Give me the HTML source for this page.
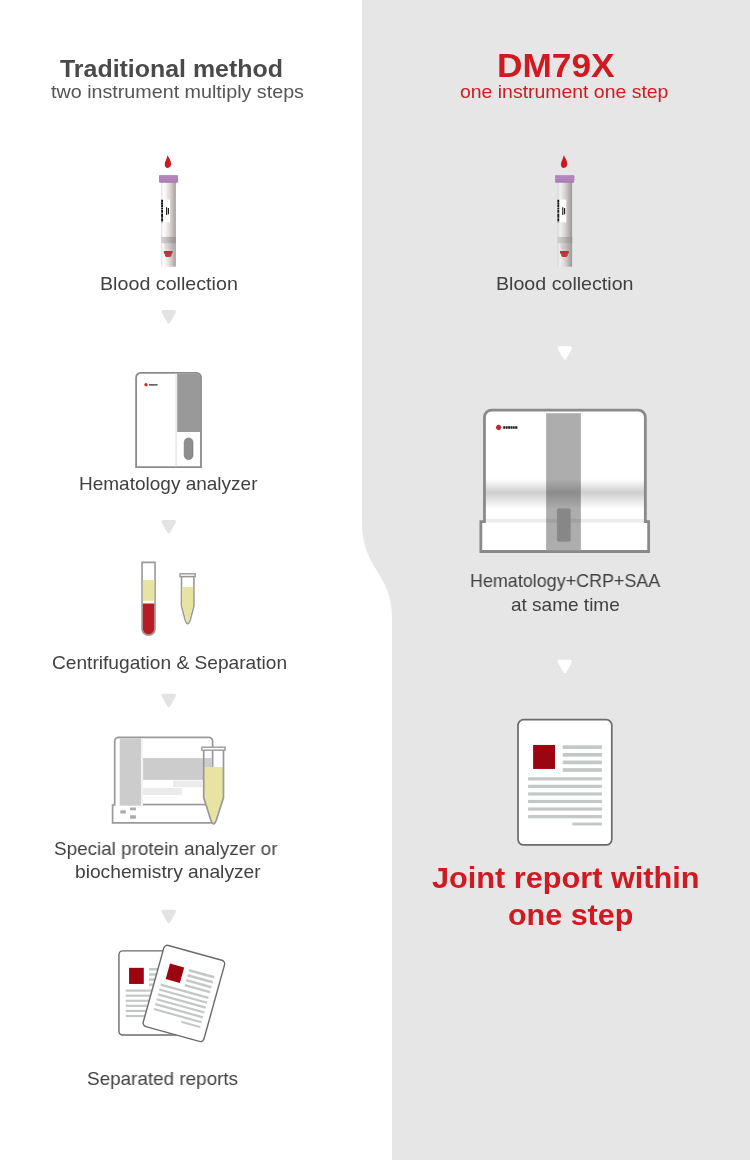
<!DOCTYPE html>
<html>
<head>
<meta charset="utf-8">
<title>Traditional method vs DM79X</title>
<style>
html,body{margin:0;padding:0;}
body{width:750px;height:1160px;position:relative;overflow:hidden;background:#fff;font-family:"Liberation Sans",sans-serif;}
#bg{position:absolute;left:0;top:0;width:750px;height:1160px;}
.t{position:absolute;white-space:nowrap;will-change:transform;color:#414141;font-size:19px;transform-origin:0 0;}
.t span{display:inline-block;}
.red{color:#cf1a21;}
.b{font-weight:bold;}
</style>
</head>
<body>
<svg id="bg" width="750" height="1160" viewBox="0 0 750 1160">
<defs>
<linearGradient id="tubeG" x1="0" x2="1" y1="0" y2="0">
<stop offset="0" stop-color="#e4e2e2"/><stop offset="0.18" stop-color="#ffffff"/><stop offset="0.36" stop-color="#f1efef"/><stop offset="0.6" stop-color="#dad6d5"/><stop offset="0.82" stop-color="#bdb7b6"/><stop offset="0.95" stop-color="#aaa3a3"/><stop offset="1" stop-color="#c9c4c4"/>
</linearGradient>
<linearGradient id="tbandG" x1="0" x2="1" y1="0" y2="0"><stop offset="0" stop-color="#d4d0d0"/><stop offset="0.3" stop-color="#c9c5c5"/><stop offset="0.7" stop-color="#aaa3a3"/><stop offset="1" stop-color="#9b9393"/></linearGradient>
<linearGradient id="bandG" x1="0" x2="0" y1="0" y2="1">
<stop offset="0" stop-color="#000" stop-opacity="0"/><stop offset="0.45" stop-color="#000" stop-opacity="0.19"/><stop offset="1" stop-color="#000" stop-opacity="0"/>
</linearGradient>
<g id="tubeBody">
<path d="M-7.500,0 H7.500 V83.900 a0.800,0.800 0 0 1 -0.800,0.800 H-6.700 a0.800,0.800 0 0 1 -0.800,-0.800Z" fill="url(#tubeG)"/>
</g>
<g id="tubeTop">
<path d="M-1,-26.8 C0.4,-24.4 2.6,-21.2 2.6,-18 C2.6,-15.8 1,-14.1 -0.8,-14.1 C-2.7,-14.1 -3.9,-15.7 -3.8,-17.6 C-3.7,-20.6 -1.6,-23 -1,-26.8Z" fill="#cc1b1f"/>
<rect x="-9.500" y="-7" width="19" height="7.800" rx="1.300" fill="#a977b4"/>
<path d="M-9.500,-5.700 a1.300,1.300 0 0 1 1.300,-1.300 H8.200 a1.300,1.300 0 0 1 1.300,1.300 V-1.500 H-9.500Z" fill="#bc99c7"/>
<rect x="-9.500" y="-6.100" width="19" height="0.600" fill="#aa79b5"/><rect x="-9.500" y="-4.700" width="19" height="0.650" fill="#a977b4"/><rect x="-9.500" y="-3.300" width="19" height="1.100" fill="#a873b3"/>
<rect x="-7.500" y="17.600" width="9" height="22.700" fill="#fff"/>
<path d="M-6.400,17.800 V40.200" stroke="#151515" stroke-width="1.900" stroke-dasharray="2.600 0.350 1.200 0.350 3 0.350 1.400 0.350"/>
<path d="M-1.900,25.300 V32.900 M-0.100,25.900 V32.300" stroke="#151515" stroke-width="1.100"/>
<rect x="-7.500" y="54.900" width="15" height="6.200" fill="url(#tbandG)"/>
<path d="M-4.600,61.100 H6 L4,67.400 H-3.900Z" fill="#9a9292" opacity="0.25"/>
<path d="M-4.600,68.900 H3.900 V71.400 L3,72 V74 L1.500,75 H-2.200 L-3.500,74 V72 L-4.600,71.400Z" fill="#c4373d"/>
<path d="M-4.600,68.900 H3.900 V71.200 H-4.600Z" fill="#b2353b"/>
</g>
<g id="report">
<rect x="-46.900" y="-62.600" width="93.800" height="125.300" rx="5.600" fill="#fff" stroke="#6b6b6b"/>
<rect x="-31.800" y="-37.300" width="21.900" height="24" fill="#9b0510"/>
<g fill="#c3c7c6">
<rect x="-2.100" y="-37" width="39.100" height="3.700"/><rect x="-2.100" y="-29.300" width="39.100" height="3.700"/><rect x="-2.100" y="-21.700" width="39.100" height="3.700"/><rect x="-2.100" y="-14.100" width="39.100" height="3.700"/>
<rect x="-36.800" y="-5" width="73.800" height="3.200"/><rect x="-36.800" y="2.500" width="73.800" height="3.200"/><rect x="-36.800" y="10.100" width="73.800" height="3.200"/><rect x="-36.800" y="17.600" width="73.800" height="3.200"/><rect x="-36.800" y="25.200" width="73.800" height="3.200"/><rect x="-36.800" y="32.800" width="73.800" height="3.200"/>
<rect x="7.500" y="40.300" width="29.500" height="2.900"/>
</g>
</g>
<g id="arrow"><path d="M-5.600,-5 H5.600 L0,5 Z" stroke-width="3.300" stroke-linejoin="round"/></g>
</defs>
<!-- right panel -->
<path d="M362,0 L362,521.300 C362,571.200 392,571 392,618.200 L392,1160 L750,1160 L750,0 Z" fill="#e6e6e6"/>

<!-- LEFT -->
<use href="#tubeBody" x="168.500" y="182"/><use href="#tubeTop" x="168.500" y="182"/>
<use href="#arrow" x="168.700" y="316.700" fill="#e3e3e3" stroke="#e3e3e3"/>
<use href="#arrow" x="168.700" y="526.700" fill="#e3e3e3" stroke="#e3e3e3"/>
<use href="#arrow" x="168.700" y="700.500" fill="#e3e3e3" stroke="#e3e3e3"/>
<use href="#arrow" x="168.700" y="916.500" fill="#e3e3e3" stroke="#e3e3e3"/>

<!-- hematology analyzer -->
<path d="M136.100,467.100 V377.500 a4.600,4.600 0 0 1 4.600,-4.600 H196.400 a4.600,4.600 0 0 1 4.600,4.600 V467.100 Z" fill="#fff" stroke="#8b8b8b" stroke-width="1.800"/>
<rect x="175.200" y="373.800" width="2" height="92.400" fill="#ececec"/>
<path d="M177.200,373.800 H196.400 a3.700,3.700 0 0 1 3.700,3.700 V432 H177.200Z" fill="#999"/>
<rect x="184.200" y="438" width="8.800" height="21.600" rx="4.400" fill="#8e8e8e" stroke="#6f6f6f" stroke-width="0.600"/>
<circle cx="146" cy="384.800" r="1.700" fill="#cf2a30"/>
<rect x="149" y="384.100" width="8.600" height="1.500" fill="#555"/>

<!-- centrifugation tubes -->
<path d="M142.050,562.400 H155.050 V628.800 A6.500,6.500 0 0 1 142.050,628.800 Z" fill="#fff" stroke="#999" stroke-width="1.600"/>
<rect x="142.850" y="580.100" width="11.400" height="20.800" fill="#e8e3a0"/>
<path d="M142.850,603.500 H154.250 V628.800 A5.700,5.700 0 0 1 142.850,628.800 Z" fill="#b71c22"/>
<path d="M181.500,576.500 V606 L185.200,620 Q187.700,627.400 190.200,620 L193.900,606 V576.500Z" fill="#fff" stroke="#999" stroke-width="1.600"/>
<path d="M182.300,587 H193.100 V605.900 L189.450,619.800 Q187.700,625 185.950,619.800 L182.300,605.900Z" fill="#e8e3a0"/>
<rect x="180" y="573.800" width="15.200" height="2.700" fill="#fff" stroke="#999" stroke-width="1.400"/>

<!-- protein analyzer -->
<path d="M112.600,805 H114.700 V741.300 a4,4 0 0 1 4,-4 H208.600 a4,4 0 0 1 4,4 V822.900 H112.600 Z" fill="#fff" stroke="#999" stroke-width="1.700"/>
<rect x="119.700" y="738.300" width="21.300" height="67.400" fill="#ccc"/>
<rect x="141" y="738.300" width="2" height="67.400" fill="#f3f3f3"/>
<rect x="143.100" y="758.100" width="68.700" height="21.800" fill="#ccc"/>
<rect x="173.100" y="780.600" width="29" height="6.600" fill="#ebebeb"/>
<rect x="143.100" y="788" width="38.700" height="7" fill="#ebebeb"/>
<rect x="143" y="803.700" width="69" height="1.700" fill="#999"/>
<rect x="120.300" y="810.300" width="5.500" height="3.200" fill="#aaa"/>
<rect x="130.100" y="807.500" width="5.800" height="2.800" fill="#aaa"/>
<rect x="130.100" y="815.300" width="5.800" height="3.400" fill="#aaa"/>
<path d="M203.700,766.900 H223.500 V797.400 L216.300,820.300 Q213.600,827.600 210.900,820.300 L203.700,797.400Z" fill="#e8e3a0"/>
<path d="M203.700,750.500 V797.500 L210.900,820.300 Q213.600,827.600 216.300,820.300 L223.500,797.500 V750.500" fill="none" stroke="#999" stroke-width="1.700"/>
<rect x="201.900" y="747.200" width="23.200" height="3" fill="#fff" stroke="#999" stroke-width="1.400"/>

<!-- separated reports -->
<g transform="translate(150.450,992.900) scale(0.672)" stroke-width="2.100"><use href="#report"/></g>
<g transform="translate(183.900,993.400) rotate(15.5) scale(0.672)" stroke-width="2.100"><use href="#report"/></g>

<!-- RIGHT -->
<!-- big analyzer -->
<path d="M484.450,521.600 V417.200 a7,7 0 0 1 7,-7 H638.350 a7,7 0 0 1 7,7 V521.600 H648.650 V551.500 H480.850 V521.600 Z" fill="#fff" stroke="#8a8a8a" stroke-width="2.800"/>
<rect x="546" y="413.200" width="35" height="137.100" fill="#adadad"/>
<rect x="546" y="413.200" width="0.700" height="137.100" fill="#bdbdbd"/><rect x="580.300" y="413.200" width="0.700" height="137.100" fill="#bdbdbd"/>
<rect x="485.700" y="479" width="158.400" height="30" fill="url(#bandG)"/>
<rect x="485.700" y="518.800" width="158.400" height="3.800" fill="#000" opacity="0.075"/>
<rect x="557" y="508.300" width="13.700" height="33.500" rx="2.500" fill="#878787" stroke="#9a9a9a" stroke-width="0.500"/>
<path d="M498.600,424.600 L500.700,425.700 L501.300,427.500 L500.400,429.500 L498.600,430.300 L496.800,429.500 L495.900,427.500 L496.500,425.700Z" fill="#c3252b"/>
<g fill="#262626"><rect x="503.200" y="426.200" width="2" height="2.600"/><rect x="505.600" y="426.200" width="2.100" height="2.600"/><rect x="508.100" y="426.200" width="2.500" height="2.600"/><rect x="511" y="426.200" width="1" height="2.600"/><rect x="512.400" y="426.200" width="2.300" height="2.600"/><rect x="515.100" y="426.200" width="2.300" height="2.600"/></g>
<!-- joint report -->
<g transform="translate(564.900,782.250)" stroke-width="1.700"><use href="#report"/></g>
<use href="#tubeBody" x="564.700" y="182"/><rect x="557.200" y="182" width="15" height="84.700" fill="#000" opacity="0.055"/><use href="#tubeTop" x="564.700" y="182"/>
<use href="#arrow" x="564.800" y="353.000" fill="#ffffff" stroke="#ffffff"/>
<use href="#arrow" x="564.800" y="666.500" fill="#ffffff" stroke="#ffffff"/>
</svg>



<div class="t b" id="L0" style="left:59.50px;top:52.8px;font-size:24.5px;line-height:31px;color:#4a4a4a;transform:scaleX(1.0173);"><span>Traditional method</span></div>
<div class="t" id="L1" style="left:50.50px;top:80.4px;font-size:19px;line-height:24px;color:#555;transform:scaleX(1.0371);"><span>two instrument multiply steps</span></div>
<div class="t b red" id="L2" style="left:497.13px;top:45.9px;font-size:33px;line-height:40px;transform:scaleX(1.0681);"><span>DM79X</span></div>
<div class="t red" id="L3" style="left:460.49px;top:80.4px;font-size:19px;line-height:24px;transform:scaleX(1.0222);"><span>one instrument one step</span></div>
<div class="t" id="L4" style="left:99.85px;top:272.4px;font-size:19px;line-height:24px;transform:scaleX(1.0356);"><span>Blood collection</span></div>
<div class="t" id="L5" style="left:79.06px;top:471.7px;font-size:19px;line-height:24px;transform:scaleX(0.9998);"><span>Hematology analyzer</span></div>
<div class="t" id="L6" style="left:52.10px;top:651.2px;font-size:19px;line-height:24px;transform:scaleX(1.0069);"><span>Centrifugation &amp; Separation</span></div>
<div class="t" id="L7" style="left:54.40px;top:837.1px;font-size:19px;line-height:24px;transform:scaleX(0.9933);"><span>Special protein analyzer or</span></div>
<div class="t" id="L8" style="left:74.85px;top:860.4px;font-size:19px;line-height:24px;transform:scaleX(1.0104);"><span>biochemistry analyzer</span></div>
<div class="t" id="L9" style="left:87.39px;top:1067.2px;font-size:19px;line-height:24px;transform:scaleX(0.9937);"><span>Separated reports</span></div>
<div class="t" id="L10" style="left:496.18px;top:272.4px;font-size:19px;line-height:24px;transform:scaleX(1.0331);"><span>Blood collection</span></div>
<div class="t" id="L11" style="left:469.65px;top:568.6px;font-size:19px;line-height:24px;transform:scaleX(0.9432);"><span>Hematology+CRP+SAA</span></div>
<div class="t" id="L12" style="left:510.61px;top:592.8px;font-size:19px;line-height:24px;transform:scaleX(0.9960);"><span>at same time</span></div>
<div class="t b red" id="L13" style="left:432.32px;top:860.3px;font-size:29px;line-height:36px;transform:scaleX(1.0578);"><span>Joint report within</span></div>
<div class="t b red" id="L14" style="left:507.70px;top:896.8px;font-size:29px;line-height:36px;transform:scaleX(1.0511);"><span>one step</span></div>
</body>
</html>
